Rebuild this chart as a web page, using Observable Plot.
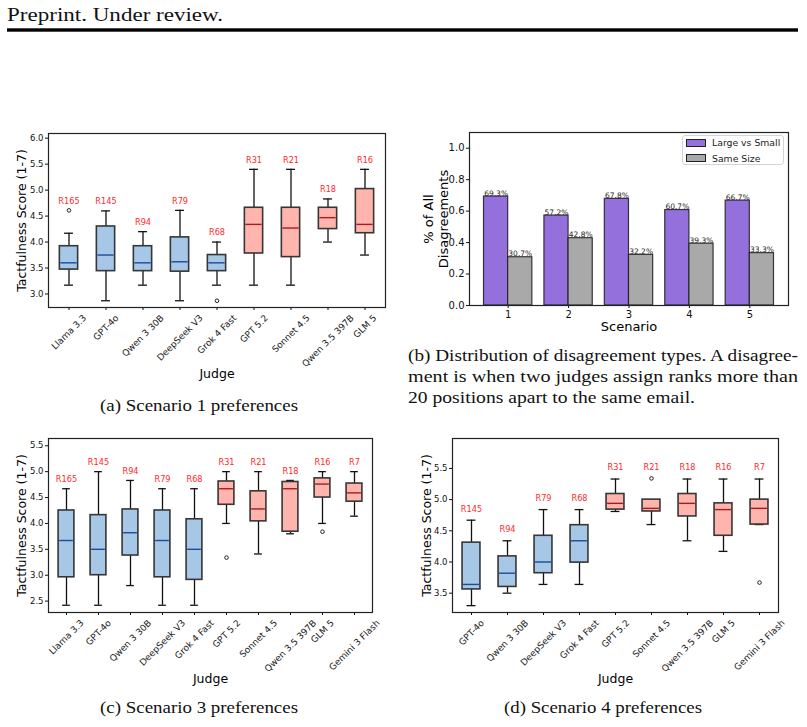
<!DOCTYPE html>
<html>
<head>
<meta charset="utf-8">
<script src="https://cdn.jsdelivr.net/npm/d3@7"></script>
<script src="https://cdn.jsdelivr.net/npm/@observablehq/plot@0.6"></script>
<style>
  html, body { margin: 0; padding: 0; background: #fff; }
  #page { position: relative; width: 807px; height: 727px; overflow: hidden; background: #fff; }
  .panel { position: absolute; }
  .panel svg { overflow: visible; max-width: none; }
  #pagetext { position: absolute; left: 0; top: 0; }
  #pagetext text { font-family: "Liberation Serif", serif; fill: #111; }
  #legend {
    position: absolute; left: 682px; top: 135px; width: 102px; height: 30px;
    box-sizing: border-box; border: 1px solid #d4d4d4; border-radius: 3px;
    background: rgba(255,255,255,0.85);
    font-family: "DejaVu Sans", sans-serif; font-size: 9.3px; color: #222;
  }
  #legend .row { position: absolute; left: 3px; height: 10px; display: flex; align-items: center; }
  #legend .sw { width: 18px; height: 6px; border: 1px solid #222; margin-right: 6px; }
</style>
</head>
<body>
<div id="page">
  <svg id="pagetext" width="807" height="727">
    <text x="7" y="21" font-size="19.5" textLength="216" lengthAdjust="spacingAndGlyphs">Preprint. Under review.</text>
    <rect x="7" y="28.3" width="791" height="3.4" fill="#000"></rect>
    <text x="100" y="411" font-size="17" textLength="198" lengthAdjust="spacingAndGlyphs">(a) Scenario 1 preferences</text>
    <text x="408" y="361" font-size="17" textLength="390" lengthAdjust="spacingAndGlyphs">(b) Distribution of disagreement types. A disagree-</text>
    <text x="408" y="382" font-size="17" textLength="390" lengthAdjust="spacingAndGlyphs">ment is when two judges assign ranks more than</text>
    <text x="408" y="403" font-size="17" textLength="287" lengthAdjust="spacingAndGlyphs">20 positions apart to the same email.</text>
    <text x="100" y="713" font-size="17" textLength="198" lengthAdjust="spacingAndGlyphs">(c) Scenario 3 preferences</text>
    <text x="504" y="713" font-size="17" textLength="198" lengthAdjust="spacingAndGlyphs">(d) Scenario 4 preferences</text>
  </svg>
  <div class="panel" id="panelA" style="left:0px; top:100px;"></div>
  <div class="panel" id="panelB" style="left:400px; top:100px;"></div>
  <div class="panel" id="panelC" style="left:0px; top:400px;"></div>
  <div class="panel" id="panelD" style="left:400px; top:400px;"></div>
  <div id="legend"></div>
</div>
<script>
// ---------- Scenario 1: tactfulness scores per judge ----------
const s1Judges = ["Llama 3.3", "GPT-4o", "Qwen 3 30B", "DeepSeek V3", "Grok 4 Fast", "GPT 5.2", "Sonnet 4.5", "Qwen 3.5 397B", "GLM 5"];
const s1Ranks  = ["R165", "R145", "R94", "R79", "R68", "R31", "R21", "R18", "R16"];
const s1Low    = [3.17, 2.87, 3.17, 2.87, 3.17, 3.17, 3.17, 4.00, 3.75];
const s1Q1     = [3.47, 3.44, 3.44, 3.43, 3.44, 3.78, 3.71, 4.25, 4.17];
const s1Median = [3.60, 3.75, 3.60, 3.62, 3.60, 4.34, 4.27, 4.47, 4.34];
const s1Q3     = [3.92, 4.30, 3.92, 4.09, 3.75, 4.66, 4.66, 4.66, 5.02];
const s1High   = [4.17, 4.60, 4.20, 4.61, 4.00, 5.40, 5.40, 4.83, 5.40];
const s1Outliers = [["Llama 3.3", 4.61], ["Grok 4 Fast", 2.87]];
const s1SmallCount = 5;

// ---------- Scenario 3 ----------
const s3Judges = ["Llama 3.3", "GPT-4o", "Qwen 3 30B", "DeepSeek V3", "Grok 4 Fast", "GPT 5.2", "Sonnet 4.5", "Qwen 3.5 397B", "GLM 5", "Gemini 3 Flash"];
const s3Ranks  = ["R165", "R145", "R94", "R79", "R68", "R31", "R21", "R18", "R16", "R7"];
const s3Low    = [2.42, 2.42, 2.80, 2.42, 2.42, 4.00, 3.41, 3.80, 4.00, 4.14];
const s3Q1     = [2.96, 3.00, 3.38, 2.96, 2.91, 4.36, 4.04, 3.84, 4.50, 4.42];
const s3Median = [3.67, 3.50, 3.82, 3.67, 3.50, 4.67, 4.28, 4.67, 4.76, 4.59];
const s3Q3     = [4.25, 4.16, 4.27, 4.25, 4.08, 4.81, 4.62, 4.80, 4.87, 4.77];
const s3High   = [4.67, 5.00, 4.83, 4.67, 4.67, 5.00, 5.00, 4.83, 5.00, 5.00];
const s3Outliers = [["GPT 5.2", 3.34], ["GLM 5", 3.84]];
const s3SmallCount = 5;

// ---------- Scenario 4 ----------
const s4Judges = ["GPT-4o", "Qwen 3 30B", "DeepSeek V3", "Grok 4 Fast", "GPT 5.2", "Sonnet 4.5", "Qwen 3.5 397B", "GLM 5", "Gemini 3 Flash"];
const s4Ranks  = ["R145", "R94", "R79", "R68", "R31", "R21", "R18", "R16", "R7"];
const s4Low    = [3.30, 3.50, 3.64, 3.64, 4.81, 4.60, 4.34, 4.17, 4.60];
const s4Q1     = [3.56, 3.60, 3.82, 3.99, 4.84, 4.81, 4.73, 4.42, 4.60];
const s4Median = [3.64, 3.82, 4.00, 4.34, 4.94, 4.86, 4.94, 4.84, 4.86];
const s4Q3     = [4.31, 4.09, 4.42, 4.59, 5.09, 5.00, 5.09, 4.94, 5.00];
const s4High   = [4.67, 4.34, 4.84, 4.84, 5.33, 5.00, 5.33, 5.33, 5.33];
const s4Outliers = [["Sonnet 4.5", 5.34], ["Gemini 3 Flash", 3.67]];
const s4SmallCount = 4;

// ---------- Disagreement types per scenario ----------
const scenarios    = [1, 2, 3, 4, 5];
const largeVsSmall = [0.693, 0.572, 0.678, 0.607, 0.667];
const sameSize     = [0.307, 0.428, 0.322, 0.393, 0.333];
const typeNames    = ["Large vs Small", "Same Size"];
const typeColors   = ["#9370db", "#a9a9a9"];

// ---------- styling ----------
const smallFill = "#a7c7e7", largeFill = "#ffb5ad";
const smallMedian = "#1a4b9b", largeMedian = "#a51c1c";
const boxEdge = "#363636", whiskerColor = "#111";

// Tick labels rotated 45° and centred under their tick: each label's
// rotated bounding box hangs just below the axis, so its offset depends on its length.
const measureCtx = document.createElement("canvas").getContext("2d");
function rotatedTickLabels(labels, fontSize) {
  measureCtx.font = `${fontSize}px "DejaVu Sans"`;
  return labels.map(label => {
    const w = measureCtx.measureText(label).width;
    const half = (w + fontSize * 0.95) * Math.SQRT1_2 / 2;
    return Plot.text([label], {
      x: d => d, text: d => d, frameAnchor: "bottom", rotate: -45,
      textAnchor: "middle", lineAnchor: "middle", dy: 6 + half, fontSize, fill: "#1a1a1a"
    });
  });
}

function boxPanel(cfg) {
  const {judges, ranks, low, q1, median, q3, high, outliers, smallCount,
         yDomain, yTicks, width, height, margin, yLabelOffset} = cfg;
  const rows = judges.map((judge, i) => {
    const extra = outliers.filter(o => o[0] === judge).map(o => o[1]);
    return {judge, rank: ranks[i], low: low[i], q1: q1[i], median: median[i], q3: q3[i], high: high[i],
            top: Math.max(high[i], ...extra), small: i < smallCount};
  });
  const fliers = outliers.map(([judge, value]) => ({judge, value}));
  const step = (width - margin.left - margin.right) / judges.length;
  const boxInset = step * 0.25, capInset = step * 0.375;
  return Plot.plot({
    width, height,
    marginLeft: margin.left, marginRight: margin.right, marginTop: margin.top, marginBottom: margin.bottom,
    x: {type: "band", domain: judges, padding: 0},
    y: {domain: yDomain},
    color: {type: "identity"},
    style: {fontFamily: "DejaVu Sans", fontSize: "8.5px", background: "none", overflow: "visible", color: "#111"},
    marks: [
      Plot.axisX({tickSize: 3, tickFormat: () => "", label: null}),
      ...rotatedTickLabels(judges, 9),
      Plot.axisY({ticks: yTicks, tickSize: 3, tickPadding: 2, tickFormat: ".1f", label: null}),
      Plot.text(["Judge"], {text: d => d, frameAnchor: "bottom", lineAnchor: "bottom", dy: 70, fontSize: 12.5, fill: "#000"}),
      Plot.text(["Tactfulness Score (1-7)"], {text: d => d, frameAnchor: "left", rotate: -90, textAnchor: "middle",
                                              lineAnchor: "top", dx: -yLabelOffset, fontSize: 12.5, fill: "#000"}),
      Plot.ruleX(rows, {x: "judge", y1: "low", y2: "q1", stroke: whiskerColor, strokeWidth: 1.3}),
      Plot.ruleX(rows, {x: "judge", y1: "q3", y2: "high", stroke: whiskerColor, strokeWidth: 1.3}),
      Plot.tickY(rows, {x: "judge", y: "low", stroke: whiskerColor, strokeWidth: 1.3, insetLeft: capInset, insetRight: capInset}),
      Plot.tickY(rows, {x: "judge", y: "high", stroke: whiskerColor, strokeWidth: 1.3, insetLeft: capInset, insetRight: capInset}),
      Plot.barY(rows, {x: "judge", y1: "q1", y2: "q3", fill: d => d.small ? smallFill : largeFill,
                       stroke: boxEdge, strokeWidth: 1.6, insetLeft: boxInset, insetRight: boxInset}),
      Plot.tickY(rows, {x: "judge", y: "median", stroke: d => d.small ? smallMedian : largeMedian, strokeWidth: 1.4,
                        insetLeft: boxInset + 1, insetRight: boxInset + 1}),
      Plot.dot(fliers, {x: "judge", y: "value", r: 1.8, stroke: "#222", strokeWidth: 1, fill: "none"}),
      Plot.text(rows, {x: "judge", y: d => d.top + 0.18, text: "rank", fill: "#ff2a2a", fontSize: 8.2}),
      Plot.frame({stroke: "#222", strokeWidth: 1.2})
    ]
  });
}

document.getElementById("panelA").append(boxPanel({
  judges: s1Judges, ranks: s1Ranks, low: s1Low, q1: s1Q1, median: s1Median, q3: s1Q3, high: s1High,
  outliers: s1Outliers, smallCount: s1SmallCount,
  yDomain: [2.74, 6.09], yTicks: [3.0, 3.5, 4.0, 4.5, 5.0, 5.5, 6.0],
  width: 400, height: 290, margin: {left: 48, right: 15, top: 33, bottom: 83}, yLabelOffset: 31
}));

document.getElementById("panelC").append(boxPanel({
  judges: s3Judges, ranks: s3Ranks, low: s3Low, q1: s3Q1, median: s3Median, q3: s3Q3, high: s3High,
  outliers: s3Outliers, smallCount: s3SmallCount,
  yDomain: [2.28, 5.64], yTicks: [2.5, 3.0, 3.5, 4.0, 4.5, 5.0, 5.5],
  width: 400, height: 300, margin: {left: 48, right: 28, top: 38, bottom: 88}, yLabelOffset: 31
}));

document.getElementById("panelD").append(boxPanel({
  judges: s4Judges, ranks: s4Ranks, low: s4Low, q1: s4Q1, median: s4Median, q3: s4Q3, high: s4High,
  outliers: s4Outliers, smallCount: s4SmallCount,
  yDomain: [3.19, 5.98], yTicks: [3.5, 4.0, 4.5, 5.0, 5.5],
  width: 407, height: 300, margin: {left: 52, right: 29, top: 38, bottom: 88}, yLabelOffset: 30
}));

// ---------- grouped bars: share of disagreements ----------
const barWidth = 0.4;
const barRows = scenarios.flatMap((s, i) => [
  {scenario: s, type: 0, value: largeVsSmall[i]},
  {scenario: s, type: 1, value: sameSize[i]}
]);
document.getElementById("panelB").append(Plot.plot({
  width: 407, height: 240,
  marginLeft: 69, marginRight: 19, marginTop: 32, marginBottom: 35,
  x: {domain: [0.36, 5.64]},
  y: {domain: [0, 1.1]},
  color: {type: "identity"},
  style: {fontFamily: "DejaVu Sans", fontSize: "10px", background: "none", overflow: "visible", color: "#111"},
  marks: [
    Plot.rectY(barRows, {
      x1: d => d.scenario + (d.type - 1) * barWidth,
      x2: d => d.scenario + d.type * barWidth,
      y: "value", fill: d => typeColors[d.type],
      stroke: "#1a1a1a", strokeOpacity: 0.85, strokeWidth: 1.2
    }),
    Plot.text(barRows, {
      x: d => d.scenario + (d.type - 0.5) * barWidth, y: "value",
      text: d => (d.value * 100).toFixed(1) + "%",
      lineAnchor: "bottom", dy: -1, fontSize: 7.5, fill: "#222"
    }),
    Plot.axisX({ticks: scenarios, tickSize: 3, tickPadding: 2, tickFormat: "d", label: null}),
    Plot.axisY({ticks: [0, 0.2, 0.4, 0.6, 0.8, 1.0], tickSize: 3, tickPadding: 2, tickFormat: ".1f", label: null}),
    Plot.text(["Scenario"], {text: d => d, frameAnchor: "bottom", lineAnchor: "bottom", dy: 25, fontSize: 13, fill: "#000"}),
    Plot.text(["% of All\nDisagreements"], {text: d => d, frameAnchor: "left", rotate: -90, textAnchor: "middle",
                                            lineAnchor: "top", dx: -47, fontSize: 13, lineHeight: 1.15, fill: "#000"}),
    Plot.frame({stroke: "#222", strokeWidth: 1.2})
  ]
}));

// legend for the bar chart
const legend = document.getElementById("legend");
typeNames.forEach((name, i) => {
  const row = document.createElement("div");
  row.className = "row";
  row.style.top = (1.5 + i * 15.5) + "px";
  const sw = document.createElement("span");
  sw.className = "sw";
  sw.style.background = typeColors[i];
  const label = document.createElement("span");
  label.textContent = name;
  row.append(sw, label);
  legend.append(row);
});
</script>
</body>
</html>
